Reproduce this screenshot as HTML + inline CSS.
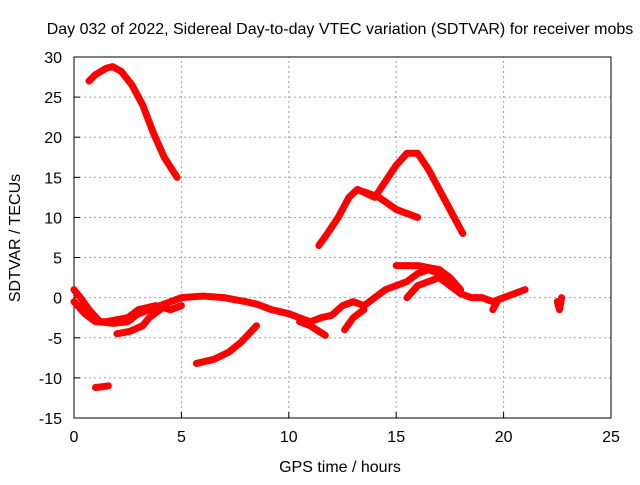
<!DOCTYPE html>
<html><head><meta charset="utf-8"><style>
body{margin:0;background:#fff;width:640px;height:480px;overflow:hidden}
svg text{font-family:"Liberation Sans",sans-serif;font-size:16px;fill:#000}
</style></head><body>
<svg id="c" width="640" height="480"></svg>
<script>
const xTicks=[0,5,10,15,20,25];
const yTicks=[-15,-10,-5,0,5,10,15,20,25,30];
const seriesA=[[0.7,27],[1.0,27.8],[1.5,28.6],[1.8,28.8],[2.2,28.2],[2.7,26.5],[3.2,24],[3.7,20.5],[4.2,17.5],[4.8,15]];
const seriesB=[[11.4,6.5],[11.8,8],[12.3,10],[12.8,12.5],[13.2,13.5],[13.6,13],[14.0,12.5],[14.5,14.5],[15.0,16.5],[15.5,18],[16.0,18],[16.5,16],[17.0,13.5],[17.5,11],[18.1,8]];
const seriesC=[[13.5,13.2],[14.2,12.5],[15,11],[15.5,10.5],[16,10]];
const seriesD=[[0,1],[0.3,0],[0.7,-1.5],[1.2,-3],[1.8,-3.2],[2.5,-3],[3,-2],[3.5,-1.5],[4,-1],[4.5,-0.5],[5,0],[6,0.2],[7,0],[8,-0.5],[8.5,-0.8],[9.2,-1.5],[10,-2],[10.5,-2.5],[11,-3],[11.5,-2.5],[12,-2.2],[12.5,-1],[13,-0.5],[13.5,-1],[14,0],[14.5,1],[15,1.5],[15.5,2],[16,3],[16.5,3.5],[17,3],[17.5,1.5],[18,0.5],[18.5,0],[19,0],[19.5,-0.5],[20,0],[20.5,0.5],[21,1]];
const seriesE=[[0,-0.5],[0.5,-2],[1,-3],[1.5,-3],[2.5,-2.5],[3,-1.5],[3.8,-1],[4.5,-1.5],[5,-1]];
const seriesF=[[2,-4.5],[2.6,-4.2],[3.2,-3.5],[3.5,-2.5],[4,-1.5]];
const seriesG=[[5.7,-8.2],[6.5,-7.7],[7.2,-6.8],[7.8,-5.5],[8.5,-3.5]];
const seriesH=[[1.0,-11.2],[1.6,-11]];
const seriesI=[[10.5,-3],[11,-3.5],[11.7,-4.7]];
const seriesJ=[[12.6,-4],[13,-2.5],[13.5,-1.5]];
const seriesK=[[15,4],[16,4],[17,3.5],[17.5,2.5],[18,1]];
const seriesL=[[15.5,0],[16,1.5],[16.5,2],[17,2.5],[17.5,1.5]];
const seriesM=[[19.5,-1.5],[19.7,-0.5]];
const seriesN=[[22.5,-0.5],[22.6,-1.5],[22.7,0]];
const allSeries=[seriesA,seriesB,seriesC,seriesD,seriesE,seriesF,seriesG,seriesH,seriesI,seriesJ,seriesK,seriesL,seriesM,seriesN];
const X0=74,X1=611,Y0=418,Y1=57;
const sx=v=>X0+(v-0)/25*(X1-X0);
const sy=v=>Y0-(v+15)/45*(Y0-Y1);
const svg=document.getElementById('c');
const NS='http://www.w3.org/2000/svg';
function mk(t,a,p){const e=document.createElementNS(NS,t);for(const k in a)e.setAttribute(k,a[k]);(p||svg).appendChild(e);return e;}
xTicks.forEach(t=>{
 const x=sx(t);
 if(t>0&&t<25){const g=mk('line',{x1:x,x2:x,y1:Y0,y2:Y1,stroke:'#a0a0a0','stroke-dasharray':'2,3'});
 
 }
 const tk=mk('line',{x1:x,x2:x,y1:Y0,y2:Y0-6,stroke:'#000'});
 
 
 const l=mk('text',{x:x,y:Y0+24,'text-anchor':'middle'});l.textContent=t;
 
 
});
yTicks.forEach(t=>{
 const y=sy(t);
 if(t>-15&&t<30){const g=mk('line',{x1:X0,x2:X1,y1:y,y2:y,stroke:'#a0a0a0','stroke-dasharray':'2,3'});
 
 }
 const tk=mk('line',{x1:X0,x2:X0+6,y1:y,y2:y,stroke:'#000'});
 
 
 const l=mk('text',{x:X0-12,y:y+6,'text-anchor':'end'});l.textContent=t;
 
 
});
const fr=mk('rect',{x:X0,y:Y1,width:X1-X0,height:Y0-Y1,fill:'none',stroke:'#000'});


allSeries.forEach(s=>{
 const p=mk('polyline',{points:s.map(d=>sx(d[0])+','+sy(d[1])).join(' '),fill:'none',stroke:'#ff0000','stroke-width':7,'stroke-linejoin':'round','stroke-linecap':'round'});
 
 
});
const t=mk('text',{x:340,y:34,'text-anchor':'middle'});t.textContent='Day 032 of 2022, Sidereal Day-to-day VTEC variation (SDTVAR) for receiver mobs';


const xl=mk('text',{x:340,y:472,'text-anchor':'middle'});xl.textContent='GPS time / hours';


const yl=mk('text',{x:20,y:238,'text-anchor':'middle',transform:'rotate(-90 20 238)'});yl.textContent='SDTVAR / TECUs';


</script>
</body></html>
